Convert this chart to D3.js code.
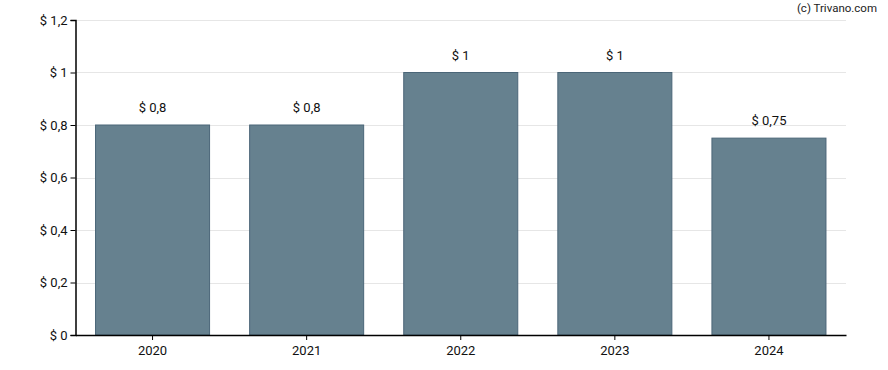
<!DOCTYPE html>
<html lang="en">
<head>
    <meta charset="UTF-8">
    <style>
        html, body { margin:0; padding:0; background:#fff; overflow:hidden; }
        svg { display:block; font-family: Roboto, "Liberation Sans", sans-serif; }
    </style>
    <script src="https://d3js.org/d3.v7.min.js"></script>
</head>
<body>
<svg width="888" height="370"></svg>
<script>
    // data
    var years = ["2020", "2021", "2022", "2023", "2024"];
    var dividends = [0.8, 0.8, 1, 1, 0.75];
    var yTicks = [0, 0.2, 0.4, 0.6, 0.8, 1, 1.2];

    var svg = d3.select("svg");
    var margin = {top: 20, right: 42, bottom: 35, left: 75.5};
    var width = 888 - margin.left - margin.right;
    var height = 370 - margin.top - margin.bottom;

    var fmt = function (v) { return "$ " + String(v).replace(".", ","); };

    var g = svg.append("g")
        .attr("transform", "translate(" + margin.left + "," + margin.top + ")");

    var x = d3.scaleBand().range([0, width])
        .paddingInner(0.26)
        .paddingOuter(0.13)
        .domain(years);

    var y = d3.scaleLinear().range([height, 0]).domain([0, 1.2]);

    // grid
    g.append("g")
        .selectAll("line")
        .data(yTicks.slice(1))
        .enter().append("line")
        .attr("x1", 0)
        .attr("x2", width)
        .attr("y1", function (d) { return Math.round(y(d)) + 0.5; })
        .attr("y2", function (d) { return Math.round(y(d)) + 0.5; })
        .attr("stroke", "#e6e6e6")
        .attr("stroke-width", 1);

    // bars
    g.selectAll(".bar")
        .data(dividends)
        .enter().append("rect")
        .attr("class", "bar")
        .attr("x", function (d, i) { return x(years[i]); })
        .attr("y", function (d) { return y(d); })
        .attr("width", x.bandwidth())
        .attr("height", function (d) { return height - y(d); })
        .attr("fill", "#66818f")
        .attr("stroke", "#4b6678")
        .attr("stroke-width", 1);

    // value labels
    g.selectAll(".lbl")
        .data(dividends)
        .enter().append("text")
        .attr("class", "lbl")
        .attr("x", function (d, i) { return x(years[i]) + x.bandwidth() / 2; })
        .attr("y", function (d) { return y(d) - 13; })
        .attr("text-anchor", "middle")
        .attr("font-size", 13)
        .attr("fill", "#111")
        .text(fmt);

    // axes
    var yAxis = g.append("g")
        .call(d3.axisLeft(y).tickValues(yTicks).tickSize(5).tickPadding(3).tickFormat(fmt));
    yAxis.selectAll("text").attr("font-size", 13).attr("fill", "#111").style("font-family", "Roboto, sans-serif");
    yAxis.select(".domain").attr("stroke", "#000").attr("stroke-width", 1.5);

    var xAxis = g.append("g")
        .attr("transform", "translate(0," + height + ")")
        .call(d3.axisBottom(x).tickSize(5).tickPadding(6).tickSizeOuter(0));
    xAxis.selectAll("text").attr("font-size", 13).attr("fill", "#111").style("font-family", "Roboto, sans-serif");
    xAxis.select(".domain").attr("stroke", "#000").attr("stroke-width", 1.5);

    svg.append("text")
        .attr("x", 877)
        .attr("y", 12)
        .attr("text-anchor", "end")
        .attr("font-size", 11.5)
        .attr("fill", "#222")
        .text("(c) Trivano.com");
</script>
</body>
</html>
